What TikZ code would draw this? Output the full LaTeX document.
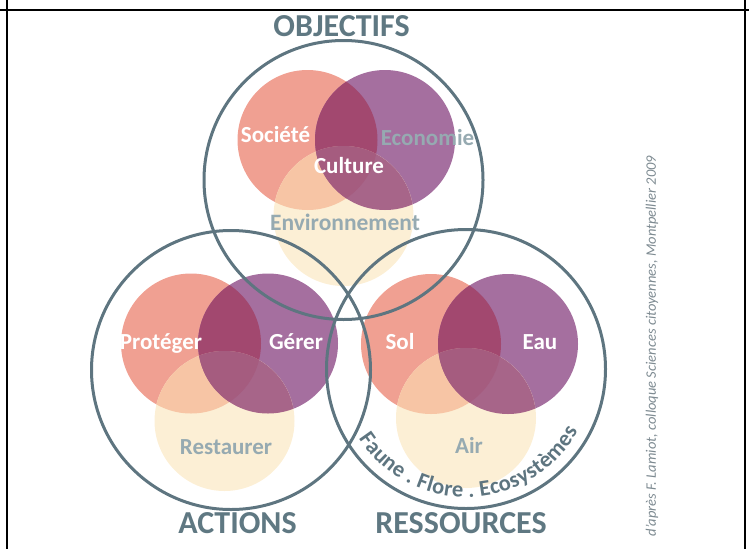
\documentclass[tikz,border=0pt]{standalone}
\usepackage{fontspec}
\setmainfont{Carlito}
\usetikzlibrary{decorations.text}

\definecolor{ring}{RGB}{94,117,128}
\definecolor{headc}{RGB}{95,120,130}
\definecolor{softtext}{RGB}{150,170,177}
\definecolor{creditc}{RGB}{125,138,145}
\definecolor{salmon}{RGB}{240,160,146}
\definecolor{plum}{RGB}{165,111,159}
\definecolor{cream}{RGB}{252,239,213}
\definecolor{salmonplum}{RGB}{162,72,111}
\definecolor{salmoncream}{RGB}{247,197,165}
\definecolor{plumcream}{RGB}{167,101,137}
\definecolor{allthree}{RGB}{165,92,127}

% three overlapping discs: #1 salmon centre, #2 plum centre, #3 cream centre
\newcommand\vennsets[3]{%
  \fill[salmon] (#1) circle[radius=70];
  \fill[plum] (#2) circle[radius=70];
  \fill[cream] (#3) circle[radius=70];
  \begin{scope}
    \clip (#1) circle[radius=70];
    \fill[salmonplum] (#2) circle[radius=70];
    \fill[salmoncream] (#3) circle[radius=70];
  \end{scope}
  \begin{scope}
    \clip (#2) circle[radius=70];
    \fill[plumcream] (#3) circle[radius=70];
    \clip (#1) circle[radius=70];
    \fill[allthree] (#3) circle[radius=70];
  \end{scope}}

\begin{document}
\begin{tikzpicture}[x=1pt,y=-1pt,
  bigring/.style={draw=ring,line width=3pt},
  frameline/.style={draw=black,line width=2pt},
  head/.style={font=\bfseries\fontsize{32}{32}\selectfont,text=headc,anchor=base,inner sep=0pt},
  light/.style={font=\bfseries\fontsize{23}{23}\selectfont,text=white,anchor=base,inner sep=0pt},
  muted/.style={font=\bfseries\fontsize{23}{23}\selectfont,text=softtext,anchor=base,inner sep=0pt}]
\useasboundingbox (0,0) rectangle (749,549);

% frame
\draw[frameline] (0,10) -- (749,10);
\draw[frameline] (7,0) -- (7,549);
\draw[frameline] (745,0) -- (745,549);

% centres of the three large rings
\coordinate (O) at (343.5,180);
\coordinate (A) at (231,370);
\coordinate (R) at (466,369);

% inner discs
\coordinate (Os) at (307.5,140); \coordinate (Op) at (385,140); \coordinate (Oc) at (343.5,216);
\coordinate (As) at (191,343.5); \coordinate (Ap) at (268,343.5); \coordinate (Ac) at (224.5,421);
\coordinate (Rs) at (431,344);   \coordinate (Rp) at (508,344);   \coordinate (Rc) at (466,418);
\vennsets{Os}{Op}{Oc}
\vennsets{As}{Ap}{Ac}
\vennsets{Rs}{Rp}{Rc}

% labels inside the discs
\node[light] (societe) at (275.5,142) {Société};
\node[muted] (economie) at (427.5,145) {Economie};
\node[light] (culture) at (349,173) {Culture};
\node[muted,font=\bfseries\fontsize{23.5}{23.5}\selectfont] (environnement) at (345,230) {Environnement};
\node[light] (proteger) at (161,349) {Protéger};
\node[light] (gerer) at (296,349) {Gérer};
\node[muted] (restaurer) at (226,454) {Restaurer};
\node[light] (sol) at (400,349) {Sol};
\node[light] (eau) at (540,349) {Eau};
\node[muted] (air) at (469,453) {Air};

% large rings
\draw[bigring] (O) circle[radius=139.5];
\draw[bigring] (A) circle[radius=139.5];
\draw[bigring] (R) circle[radius=139.5];

% text running along the inside of the lower ring
\path[decorate,decoration={text along path,text align=fit to path,
  text={|\bfseries\fontsize{22.5}{22.5}\selectfont\color{ring}|Faune . Flore . Ecosyst{è}mes}}]
  (R) ++(147:128) arc[start angle=147,end angle=29,radius=128];

% headings
\node[head] (objectifs) at (341.5,36) {OBJECTIFS};
\node[head] (actions) at (237.5,533) {ACTIONS};
\node[head] (ressources) at (461,533) {RESSOURCES};

% source credit
\node[rotate=90,font=\itshape\fontsize{14.5}{14.5}\selectfont,text=creditc] (credit) at (652,346)
  {d'après F. Lamiot, colloque Sciences citoyennes, Montpellier 2009};
\end{tikzpicture}
\end{document}
